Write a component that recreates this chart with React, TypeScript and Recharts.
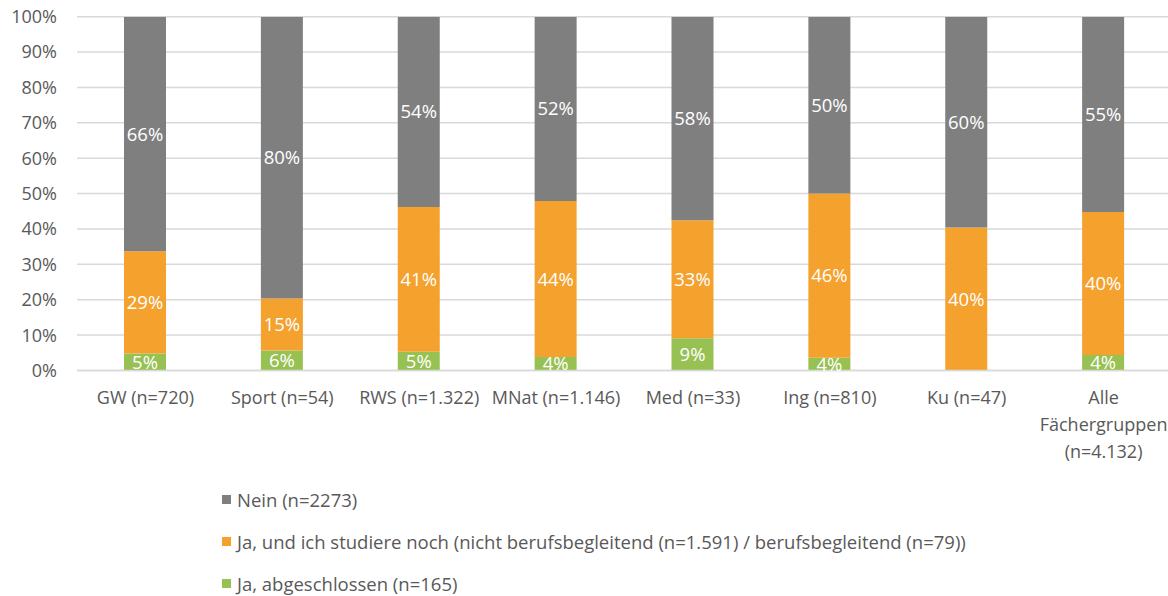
import React from "react";
import { BarChart, Bar, XAxis, YAxis, CartesianGrid, LabelList } from "recharts";

const categories = [
  "GW (n=720)",
  "Sport (n=54)",
  "RWS (n=1.322)",
  "MNat (n=1.146)",
  "Med (n=33)",
  "Ing (n=810)",
  "Ku (n=47)",
  "Alle\nFächergruppen\n(n=4.132)",
];
const abgeschlossen = [4.8, 5.65, 5.3, 3.8, 9.1, 3.6, 0, 4.4];
const studiereNoch = [28.9, 14.7, 40.9, 44.1, 33.4, 46.4, 40.4, 40.4];
const nein = [66.3, 79.7, 53.8, 52.1, 57.5, 50.0, 59.6, 55.2];
const yTicks = [0, 10, 20, 30, 40, 50, 60, 70, 80, 90, 100];

const seriesNames = {
  nein: "Nein (n=2273)",
  noch: "Ja, und ich studiere noch (nicht berufsbegleitend (n=1.591) / berufsbegleitend (n=79))",
  abg: "Ja, abgeschlossen (n=165)",
};

const COLORS = { nein: "#7f7f7f", noch: "#f4a12e", abg: "#97c153" };
const FONT = "'Open Sans', Lato, sans-serif";
const TEXT = "#595959";

const data = categories.map((c, i) => ({
  name: c,
  abg: abgeschlossen[i],
  noch: studiereNoch[i],
  nein: nein[i],
}));

const fmt = (v: any) => (v && Number(v) > 0 ? `${Math.round(Number(v))}%` : "");

const XTick = (props: any) => {
  const { x, y, payload } = props;
  const lines = String(payload.value).split("\n");
  return (
    <g>
      {lines.map((l: string, i: number) => (
        <text
          key={i}
          x={x}
          y={y + 25 + i * 27}
          textAnchor="middle"
          fill={TEXT}
          fontSize={18}
          fontFamily={FONT}
        >
          {l}
        </text>
      ))}
    </g>
  );
};

const legendOrder = ["nein", "noch", "abg"] as const;

const LegendBlock = () => (
  <div
    style={{
      position: "absolute",
      left: 222,
      top: 478,
      fontFamily: FONT,
      fontSize: 18.5,
      color: TEXT,
      whiteSpace: "nowrap",
    }}
  >
    {legendOrder.map((k) => (
      <div key={k} style={{ display: "flex", alignItems: "center", height: 42 }}>
        <span
          style={{
            display: "inline-block",
            width: 9,
            height: 9,
            background: COLORS[k],
            marginRight: 6,
          }}
        />
        <span>{seriesNames[k]}</span>
      </div>
    ))}
  </div>
);

export default function App() {
  return (
    <div
      style={{
        position: "absolute",
        left: 0,
        top: 0,
        width: 1168,
        height: 596,
        overflow: "hidden",
        background: "#fff",
      }}
    >
      <BarChart
        width={1180}
        height={596}
        data={data}
        margin={{ top: 16.7, right: 8, bottom: 195.5, left: 0 }}
        barSize={42}
      >
        <CartesianGrid vertical={false} stroke="#d9d9d9" strokeWidth={1.5} />
        <XAxis
          dataKey="name"
          axisLine={{ stroke: "#d9d9d9", strokeWidth: 1.5 }}
          tickLine={false}
          interval={0}
          height={30}
          tick={<XTick />}
        />
        <YAxis
          width={77}
          domain={[0, 100]}
          ticks={yTicks}
          interval={0}
          tickFormatter={(v) => `${v}%`}
          axisLine={false}
          tickLine={false}
          tickMargin={14}
          tick={{ fill: TEXT, fontSize: 18, fontFamily: FONT }}
          allowDataOverflow
        />
        <Bar dataKey="abg" stackId="a" fill={COLORS.abg} isAnimationActive={false}>
          <LabelList dataKey="abg" position="center" fill="#fff" fontSize={18.5} fontFamily={FONT} formatter={fmt} />
        </Bar>
        <Bar dataKey="noch" stackId="a" fill={COLORS.noch} isAnimationActive={false}>
          <LabelList dataKey="noch" position="center" fill="#fff" fontSize={18.5} fontFamily={FONT} formatter={fmt} />
        </Bar>
        <Bar dataKey="nein" stackId="a" fill={COLORS.nein} isAnimationActive={false}>
          <LabelList dataKey="nein" position="center" fill="#fff" fontSize={18.5} fontFamily={FONT} formatter={fmt} />
        </Bar>
      </BarChart>
      <LegendBlock />
    </div>
  );
}
